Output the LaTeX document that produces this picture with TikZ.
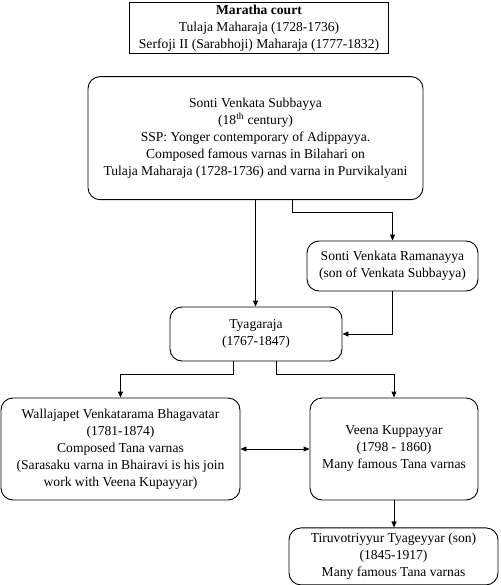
\documentclass[tikz,border=0pt]{standalone}
\usepackage{fontspec}
\setmainfont{Liberation Serif}
\usepackage{tikz}
\usetikzlibrary{arrows.meta, positioning}

\begin{document}
\begin{tikzpicture}[
    x=1pt, y=1pt,
    font=\fontsize{13.6}{17}\selectfont,
    courtbox/.style={rectangle, draw, line width=0.9pt, align=center,
                     inner sep=1pt},
    rbox/.style={rectangle, draw, line width=0.9pt, align=center,
                 rounded corners=12pt, inner sep=2pt},
    arr/.style={line width=0.9pt, -{Triangle[length=6pt, width=5pt]}}
]
    \useasboundingbox (0,0) rectangle (500,-585);

    \node[courtbox, minimum width=259.5pt, minimum height=51.5pt] (court) at (259,-28)
        {\textbf{Maratha court}\\Tulaja Maharaja (1728-1736)\\Serfoji II (Sarabhoji) Maharaja (1777-1832)};
    \node[rbox, minimum width=335pt, minimum height=123pt, below=22pt of court, xshift=-3.5pt] (subb)
        {Sonti Venkata Subbayya\\(18\textsuperscript{th} century)\\SSP: Yonger contemporary of Adippayya.\\Composed famous varnas in Bilahari on\\Tulaja Maharaja (1728-1736) and varna in Purvikalyani};
    \node[rbox, minimum width=171pt, minimum height=50pt] (rama) at (392.5,-266)
        {Sonti Venkata Ramanayya\\(son of Venkata Subbayya)};
    \node[rbox, minimum width=172pt, minimum height=54pt] (tyag) at (256,-334)
        {Tyagaraja\\(1767-1847)};
    \node[rbox, minimum width=239pt, minimum height=102pt] (walla) at (120.5,-449)
        {Wallajapet Venkatarama Bhagavatar\\(1781-1874)\\Composed Tana varnas\\(Sarasaku varna in Bhairavi is his join\\work with Veena Kupayyar)};
    \node[rbox, minimum width=168pt, minimum height=102pt] (veena) at (394,-449)
        {Veena Kuppayyar\\(1798 - 1860)\\Many famous Tana varnas};
    \node[rbox, minimum width=209pt, minimum height=57pt, below=27pt of veena, xshift=-0.5pt] (tiru)
        {Tiruvotriyyur Tyageyyar (son)\\(1845-1917)\\Many famous Tana varnas};

    \draw[arr] (subb.south) -- (subb.south |- tyag.north);
    \draw[arr] ([xshift=36.5pt]subb.south) -- ++(0,-12) -| (rama.north);
    \draw[arr] (rama.south) |- (tyag.east);
    \draw[arr] ([xshift=-23pt]tyag.south) -- ++(0,-13) -| (walla.north);
    \draw[arr] ([xshift=20pt]tyag.south) -- ++(0,-13) -| (veena.north);
    \draw[line width=0.9pt, {Triangle[length=6pt, width=5pt]}-{Triangle[length=6pt, width=5pt]}] (walla.east) -- (veena.west);
    \draw[arr] (veena.south) -- (veena.south |- tiru.north);
\end{tikzpicture}
\end{document}
